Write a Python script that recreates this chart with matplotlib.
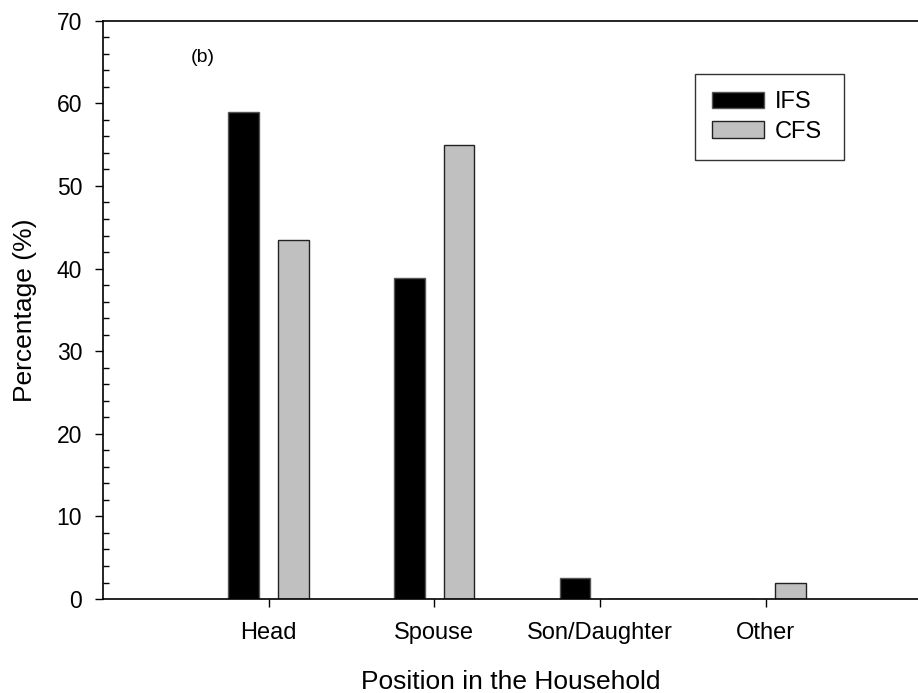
import matplotlib
matplotlib.use("Agg")
import matplotlib.pyplot as plt
import numpy as np
from matplotlib.ticker import MultipleLocator

plt.rcParams['font.family'] = ['Liberation Sans', 'DejaVu Sans']

categories = ["Head", "Spouse", "Son/Daughter", "Other"]
ifs = [58.9, 38.8, 2.6, 0.0]
cfs = [43.4, 54.9, 0.0, 2.0]
series_names = ["IFS", "CFS"]

fig = plt.figure(figsize=(9.18, 6.93), dpi=100)
ax = fig.add_axes([0.1122, 0.1356, 0.8878, 0.8345])

x = np.arange(1, len(categories) + 1)
w = 0.185
off = 0.15
ax.bar(x - off, ifs, width=w, color="black", edgecolor="#555555", linewidth=1.0, label=series_names[0])
ax.bar(x + off, cfs, width=w, color="#c0c0c0", edgecolor="#222222", linewidth=1.0, label=series_names[1])

ax.set_xlim(0, 4.92)
ax.set_ylim(0, 70)
ax.set_xticks(x)
ax.set_xticklabels(categories, fontsize=17)
ax.yaxis.set_major_locator(MultipleLocator(10))
ax.yaxis.set_minor_locator(MultipleLocator(2))
ax.tick_params(axis='y', which='major', direction='out', length=6, width=1, labelsize=16.5, pad=9)
ax.tick_params(axis='y', which='minor', direction='in', length=4.3, width=1)
ax.tick_params(axis='x', which='major', direction='out', length=6, width=1, pad=10.5)
ax.spines['right'].set_visible(False)
for s in ['top', 'bottom', 'left']:
    ax.spines[s].set_linewidth(1.2)

ax.set_xlabel("Position in the Household", fontsize=19, labelpad=19)
ax.set_ylabel("Percentage (%)", fontsize=19, labelpad=14)
ax.text(0.6, 65.6, "(b)", fontsize=14, ha="center", va="center")

leg = ax.legend(loc="upper left", bbox_to_anchor=(0.7264, 0.7574, 0.1828, 0.1504),
                mode="expand", fontsize=17,
                frameon=True, fancybox=False, edgecolor="black",
                handlelength=2.2, handleheight=0.7, borderpad=0.72, labelspacing=0.32,
                handletextpad=0.45, borderaxespad=0)
leg.get_frame().set_linewidth(1.0)

fig.savefig("out.png", dpi=100)
